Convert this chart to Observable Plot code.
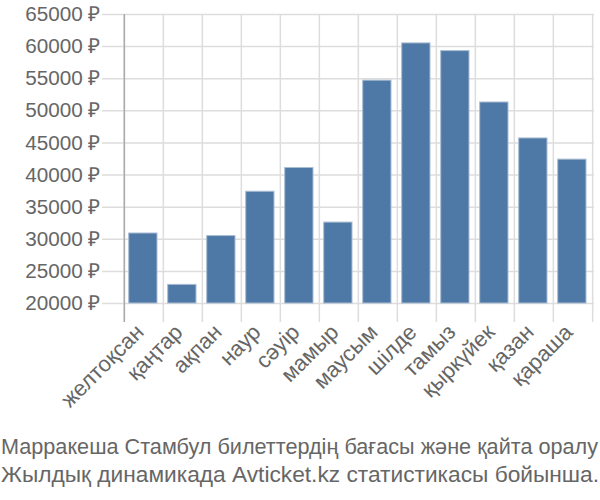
<!DOCTYPE html>
<html>
<head>
<meta charset="utf-8">
<script src="https://cdn.jsdelivr.net/npm/d3@7"></script>
<script src="https://cdn.jsdelivr.net/npm/@observablehq/plot@0.6"></script>
<style>
  body { margin: 0; background: #fff; font-family: "Liberation Sans", Arial, sans-serif; }
  #caption { display: block; }
  #caption text { fill: #666; font-size: 21.6px; font-family: "Liberation Sans", Arial, sans-serif; }
</style>
</head>
<body>
<div id="chart"></div>
<svg id="caption" width="600" height="68">
  <text x="1" y="22" textLength="597" lengthAdjust="spacingAndGlyphs">Марракеша Стамбул билеттердің бағасы және қайта оралу</text>
  <text x="1" y="49.5" textLength="598" lengthAdjust="spacingAndGlyphs">Жылдық динамикада Avticket.kz статистикасы бойынша.</text>
</svg>
<script>
const months = ["желтоқсан","қаңтар","ақпан","наур","сәуір","мамыр","маусым","шілде","тамыз","қыркүйек","қазан","қараша"];
const prices = [30900, 22900, 30500, 37400, 41100, 32600, 54700, 60500, 59300, 51300, 45700, 42400];
const yTicks = [20000,25000,30000,35000,40000,45000,50000,55000,60000,65000];
const currency = "₽";

const data = months.map((m, i) => ({month: m, price: prices[i]}));

const W = 600, H = 432, ML = 122, MR = 6, MT = 14, MB = 129;
const step = (W - ML - MR) / months.length;

const chart = Plot.plot({
  width: W, height: H,
  marginLeft: ML, marginRight: MR, marginTop: MT, marginBottom: MB,
  style: {fontFamily: "Liberation Sans, Arial, sans-serif", fontSize: "20px", color: "#666", background: "#fff", display: "block"},
  x: {domain: months, padding: 0, axis: null},
  y: {domain: [20000, 65000], axis: null},
  marks: [
    Plot.ruleY(yTicks, {y: d => d, stroke: "#ddd", strokeWidth: 1.5, insetLeft: -20}),
    Plot.ruleX(months, {x: d => d, dx: -step / 2, stroke: "#ddd", strokeWidth: 1.5, insetBottom: -19}),
    Plot.ruleX([months[months.length - 1]], {x: d => d, dx: step / 2, stroke: "#ddd", strokeWidth: 1.5, insetBottom: -19}),
    Plot.ruleX([months[0]], {x: d => d, dx: -step / 2, stroke: "#aaa", strokeWidth: 1.5, insetBottom: -19}),
    Plot.barY(data, {x: "month", y1: 20000, y2: "price", fill: "#4e79a7", stroke: "#a9bdd3", strokeWidth: 1, insetLeft: 4.7, insetRight: 6}),
    Plot.text(yTicks, {y: d => d, frameAnchor: "left", text: d => d + " " + currency, textAnchor: "end", dx: -22, fill: "#666", fontSize: 20.7}),
    Plot.text(months, {x: d => d, frameAnchor: "bottom", text: d => d, textAnchor: "end", rotate: -45, dy: 25, dx: -4, fill: "#666", fontSize: 22, lineAnchor: "middle"})
  ]
});
document.getElementById("chart").appendChild(chart);
</script>
</body>
</html>
